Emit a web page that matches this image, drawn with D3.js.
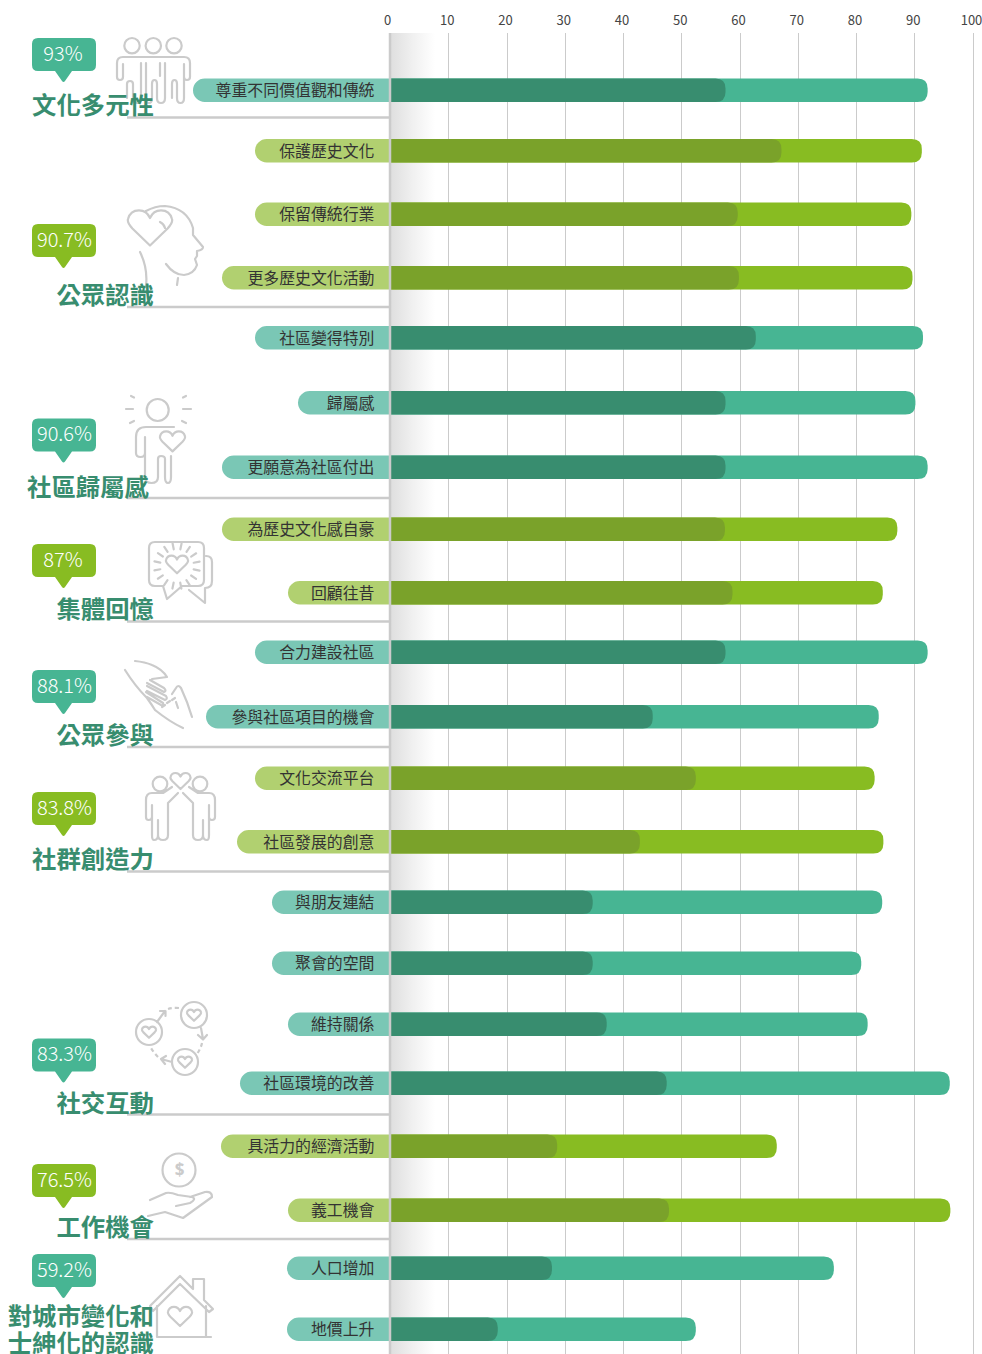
<!DOCTYPE html>
<html><head><meta charset="utf-8">
<script src="https://cdn.jsdelivr.net/npm/d3@7/dist/d3.min.js"></script>
<style>html,body{margin:0;padding:0;background:#fff;overflow:hidden}svg{display:block}</style>
</head><body><div id="c"></div>
<script>
// ---------- data ----------
const categories = ["尊重不同價值觀和傳統","保護歷史文化","保留傳統行業","更多歷史文化活動","社區變得特別","歸屬感","更願意為社區付出","為歷史文化感自豪","回顧往昔","合力建設社區","參與社區項目的機會","文化交流平台","社區發展的創意","與朋友連結","聚會的空間","維持關係","社區環境的改善","具活力的經濟活動","義工機會","人口增加","地價上升"];
const outerValues = [92.3,91.3,89.5,89.7,91.5,90.2,92.3,87.1,84.6,92.3,83.9,83.2,84.7,84.5,80.9,82.0,96.1,66.4,96.2,76.2,52.5];
const innerValues = [57.6,67.2,59.7,59.9,62.8,57.6,57.6,57.5,58.8,57.6,45.1,52.5,42.9,34.8,34.8,37.2,47.5,28.7,47.9,27.8,18.5];
const rowTheme = ["t","g","g","g","t","t","t","g","g","t","t","g","g","t","t","t","t","g","g","t","t"];
const tickValues = [0,10,20,30,40,50,60,70,80,90,100];
const groupPercents = ["93%","90.7%","90.6%","87%","88.1%","83.8%","83.3%","76.5%","59.2%"];
const groupThemes = ["t","g","t","g","t","g","t","g","t"];
const groupTitles = [["文化多元性"],["公眾認識"],["社區歸屬感"],["集體回憶"],["公眾參與"],["社群創造力"],["社交互動"],["工作機會"],["對城市變化和","士紳化的認識"]];

// ---------- layout ----------
const W = 982, H = 1354;
const rowCentres = [90,150.5,214,277.5,337.5,402.5,467,529,592.5,652,716.5,778,841.5,902,963,1024,1083,1146,1210,1268,1329];
const pillLefts = [193,255,255,222,255,298,222,222,288,255,206,255,237,272,272,288,240,221,288,287,287];
const calloutTops = [38,224,418.5,544,670,792,1038.5,1164,1254];
const titleCentres = [105,295,487,609,735,859,1103,1227,1316];
const titleRight = [154,154,149,154,154,154,154,154,154];
const separators = [117.5,307,498,621.5,747,871.5,1114.5,1239];
const colours = {
  t:{bar:"#47b593",dark:"#388d6f",pill:"#7ac7b5"},
  g:{bar:"#88bc22",dark:"#7aa22a",pill:"#b1d070"}
};
const gray = "#cbcbcb";
const cjk = '"Noto Sans CJK TC","Noto Sans",sans-serif';

const svg = d3.select("#c").append("svg").attr("width",W).attr("height",H).attr("viewBox",`0 0 ${W} ${H}`);
const x = d3.scaleLinear().domain([0,100]).range([390,972.5]);
const y = d3.scaleOrdinal().domain(categories).range(rowCentres);
const barH = 23.5;

const grad = svg.append("defs").append("linearGradient").attr("id","fade");
grad.append("stop").attr("offset","0").attr("stop-color","#dedede");
grad.append("stop").attr("offset","0.5").attr("stop-color","#f0f0f0");
grad.append("stop").attr("offset","1").attr("stop-color","#ffffff");

// grid + axis
const axis = d3.axisTop(x).tickValues(tickValues).tickSize(0).tickPadding(0);
const ax = svg.append("g").attr("transform","translate(0,25)").call(axis);
ax.select(".domain").remove();
ax.selectAll("text").attr("font-family",cjk).attr("font-size",13).attr("fill","#444").attr("dx",d=>d===0?-3:-1.5);
svg.append("g").selectAll("line").data(tickValues.slice(1)).join("line")
  .attr("x1",d=>Math.round(x(d))+.5).attr("x2",d=>Math.round(x(d))+.5).attr("y1",33).attr("y2",H)
  .attr("stroke",gray).attr("stroke-width",1);
svg.append("rect").attr("x",x(0)).attr("y",33).attr("width",45).attr("height",H-33).attr("fill","url(#fade)");

// separators
svg.append("g").selectAll("line").data(separators).join("line")
  .attr("x1",127).attr("x2",x(0)).attr("y1",d=>d).attr("y2",d=>d).attr("stroke",gray).attr("stroke-width",2.5);

// rounded-right bar path
function rightRound(x0,x1,cy,h){
  const r=Math.min(h/2,10), t=cy-h/2, b=cy+h/2, p=d3.path();
  p.moveTo(x0,t); p.lineTo(x1-r,t); p.quadraticCurveTo(x1,t,x1,t+r); p.lineTo(x1,b-r); p.quadraticCurveTo(x1,b,x1-r,b); p.lineTo(x0,b); p.closePath();
  return p.toString();
}
function leftRound(x0,x1,cy,h){
  const r=h/2, t=cy-h/2, b=cy+h/2, p=d3.path();
  p.moveTo(x1,t); p.lineTo(x0+r,t); p.arc(x0+r,cy,r,-Math.PI/2,Math.PI/2,true); p.lineTo(x1,b); p.closePath();
  return p.toString();
}
const rows = categories.map((c,i)=>({c,o:outerValues[i],n:innerValues[i],k:rowTheme[i],pl:pillLefts[i]}));
const rowG = svg.append("g").selectAll("g").data(rows).join("g");
rowG.append("path").attr("d",d=>rightRound(x(0),x(d.o),y(d.c)+.3,barH)).attr("fill",d=>colours[d.k].bar);
rowG.append("path").attr("d",d=>rightRound(x(0),x(d.n),y(d.c)+.3,barH)).attr("fill",d=>colours[d.k].dark);
rowG.append("path").attr("d",d=>leftRound(d.pl,x(0),y(d.c)+.3,barH)).attr("fill",d=>colours[d.k].pill);
rowG.append("text").text(d=>d.c).attr("x",374.5).attr("y",d=>y(d.c)+.6).attr("dy","0.36em")
  .attr("text-anchor","end").attr("font-family",cjk).attr("font-size",15.9).attr("fill","#333");

// axis line
svg.append("line").attr("x1",x(0)).attr("x2",x(0)).attr("y1",33).attr("y2",H).attr("stroke",gray).attr("stroke-width",2.5);

// ---------- icons (decorative line art) ----------
function heart(cx,cy,s){
  return `M${cx},${cy+.75*s} L${cx-.8*s},${cy-.02*s} Q${cx-1.05*s},${cy-.3*s} ${cx-1*s},${cy-.45*s} Q${cx-.9*s},${cy-.85*s} ${cx-.5*s},${cy-.85*s} Q${cx-.15*s},${cy-.85*s} ${cx},${cy-.5*s} Q${cx+.15*s},${cy-.85*s} ${cx+.5*s},${cy-.85*s} Q${cx+.9*s},${cy-.85*s} ${cx+1*s},${cy-.45*s} Q${cx+1.05*s},${cy-.3*s} ${cx+.8*s},${cy-.02*s} Z`;
}
function circ(cx,cy,r){return `M${cx-r},${cy}a${r},${r} 0 1,0 ${2*r},0a${r},${r} 0 1,0 ${-2*r},0Z`;}
function rays(cx,cy,r0,r1,n){let s="";for(let i=0;i<n;i++){const a=i*2*Math.PI/n+.2;s+=`M${cx+r0*Math.cos(a)},${cy+r0*Math.sin(a)}L${cx+r1*Math.cos(a)},${cy+r1*Math.sin(a)}`;}return s;}

const iconPaths = [
 // people
 circ(132,45.7,7.7)+circ(153.3,45.7,7.7)+circ(174,45.7,7.7)+
 "M123,64V77Q123,80 120,80Q117,80 117,77V63Q117,57 123,57H184Q190,57 190,63V77Q190,80 187,80Q184,80 184,77V64"+
 "M127,98V84Q127,81 130,81Q133,81 133,84V98Q133,103 137,103Q141,103 141,98V63"+
 "M146,63V98Q146,103 149,103Q152,103 152,98V84Q152,80 154.5,80Q157,80 157,84V98Q157,103 161,103Q165,103 165,98V63"+
 "M160,63V76M172,98V84Q172,80 174.5,80Q177,80 177,84V98Q177,103 180.5,103Q184,103 184,98V77",
 // head
 heart(150,229,22)+"M160,222Q164,224 165,228"+
 "M146,211Q155,206 165,206Q187,208 193,228L193,235L203,247Q203,250 197,251L197,256L195,259L197,265Q194,274 184,275Q174,275 166,264"+
 "M140,252Q148,268 146,286M178,278L177,285",
 // person with heart
 circ(157.7,410,11)+"M126,409H133M131,396L134,397.5M130,423L134,421M183,409H191M183,397.5L186,396M182,421L186,423"+
 "M174,427H146Q136,427 136,437V453Q136,457 140.5,457Q145,457 145,453V437M145,453V477Q145,483 151.5,483Q158,483 158,477V459Q158,456 161,456Q165,456 165,459V477Q165,483 168,483Q171,483 171,477V456"+
 heart(172.5,442,12.5),
 // speech bubbles
 "M155,542H198Q204,542 204,548V580Q204,586 198,586H182L167,599L163,586H155Q149,586 149,580V548Q149,542 155,542Z"+
 "M206,556Q212,556 212,562V581Q212,588 205,588V603L189,590"+
 heart(177,565,11)+rays(177,566,17,23,16),
 // hands
 "M135,661Q145,662 152,665Q162,669 167,677L152,679"+"M125,670Q135,686 147,698Q152,705 155,710Q170,722 183,728"+
 "M150,680L164,688Q167,691 164,692L147,683M147,686L166,696Q168,699 165,700L147,691M146,692L163,703Q164,706 161,705L147,697"+
 "M192,717Q188,703 181,688Q178,684 176,688L172,694"+
 "M162,707L165,705M167,703L170,701M172,700L175,698M176,702L178,708",
 // two people + heart
 circ(160,784,7.3)+circ(200,784,7.3)+heart(180.5,781.5,10)+
 "M178,793L168,803V835Q168,840 163,840Q158,840 158,835V820V835Q158,840 154,840Q152,840 152,835V805V817Q152,820 148.5,820Q146,820 146,817V800Q146,793 152,793H163L172,787"+
 "M183,793L193,803V835Q193,840 198,840Q203,840 203,835V820V835Q203,840 207,840Q209,840 209,835V805V817Q209,820 212,820Q215,820 215,817V800Q215,793 209,793H198L189,787",
 // cycle of hearts
 circ(149,1032,13)+circ(194,1015,13)+circ(185,1062,13)+heart(149,1032.5,7)+heart(194,1015.5,7)+heart(185,1062.5,7)+
 "M157,1022L165,1011M160,1011H165.5V1016"+"M201,1028L203,1039M198,1035L203,1039.5L207,1035"+"M172,1062L161,1059M166,1056L161,1059L165,1064",
 // hand & coin
 circ(179,1170,16.5)+
 "M150,1200L166,1193Q170,1192 178,1195L192,1197Q197,1199 190,1203L176,1206M190,1197L205,1192Q212,1191 212,1197L183,1218L165,1212L148,1216",
 // house
 "M150,1306L180,1276L193,1289V1279H204V1300L213,1309L209,1312L180,1284L153,1311Z"+
 "M157,1306V1337H211M206,1306V1337"+heart(180,1317,12)
];
svg.append("g").attr("fill","none").attr("stroke",gray).attr("stroke-width",2.2).attr("stroke-linecap","round").attr("stroke-linejoin","round")
  .selectAll("path").data(iconPaths).join("path").attr("d",d=>d);
// dashes of the cycle icon
svg.append("path").attr("fill","none").attr("stroke",gray).attr("stroke-width",2.2).attr("stroke-dasharray","4 3")
  .attr("d","M168,1009Q173,1007.5 179,1008M202,1043Q201,1048 197,1054M158,1057Q154,1053 151,1048");
svg.append("text").text("$").attr("x",179.5).attr("y",1176).attr("text-anchor","middle").attr("font-family",'"Noto Sans"').attr("font-weight",700).attr("font-size",17).attr("fill",gray);

// ---------- callouts ----------
const groups = groupPercents.map((p,i)=>({p,k:groupThemes[i],top:calloutTops[i],tc:titleCentres[i],tr:titleRight[i],title:groupTitles[i]}));
const gg = svg.append("g").selectAll("g").data(groups).join("g");
gg.append("path").attr("fill",d=>colours[d.k].bar)
 .attr("d",d=>{const l=32,r=96,t=d.top,b=t+33,q=6,p=d3.path();
   p.moveTo(l+q,t);p.lineTo(r-q,t);p.quadraticCurveTo(r,t,r,t+q);p.lineTo(r,b-q);p.quadraticCurveTo(r,b,r-q,b);
   p.lineTo(72,b);p.lineTo(65,b+10);p.quadraticCurveTo(63.5,b+12,62,b+10);p.lineTo(55,b);
   p.lineTo(l+q,b);p.quadraticCurveTo(l,b,l,b-q);p.lineTo(l,t+q);p.quadraticCurveTo(l,t,l+q,t);p.closePath();return p.toString();});
gg.append("text").text(d=>d.p).attr("x",d=>d.p.length>3?64.5:63).attr("y",d=>d.top+15.3).attr("dy","0.36em")
 .attr("text-anchor","middle").attr("font-family",cjk).attr("font-weight",300).attr("font-size",20).attr("fill","#fff");
gg.each(function(d){
  d.title.forEach((t,j)=>{
    d3.select(this).append("text").text(t).attr("x",d.tr).attr("y",d.tc+j*27).attr("dy","0.36em")
      .attr("text-anchor","end").attr("font-family",cjk).attr("font-weight",700).attr("font-size",24.4).attr("fill","#388d6f");
  });
});
</script></body></html>
